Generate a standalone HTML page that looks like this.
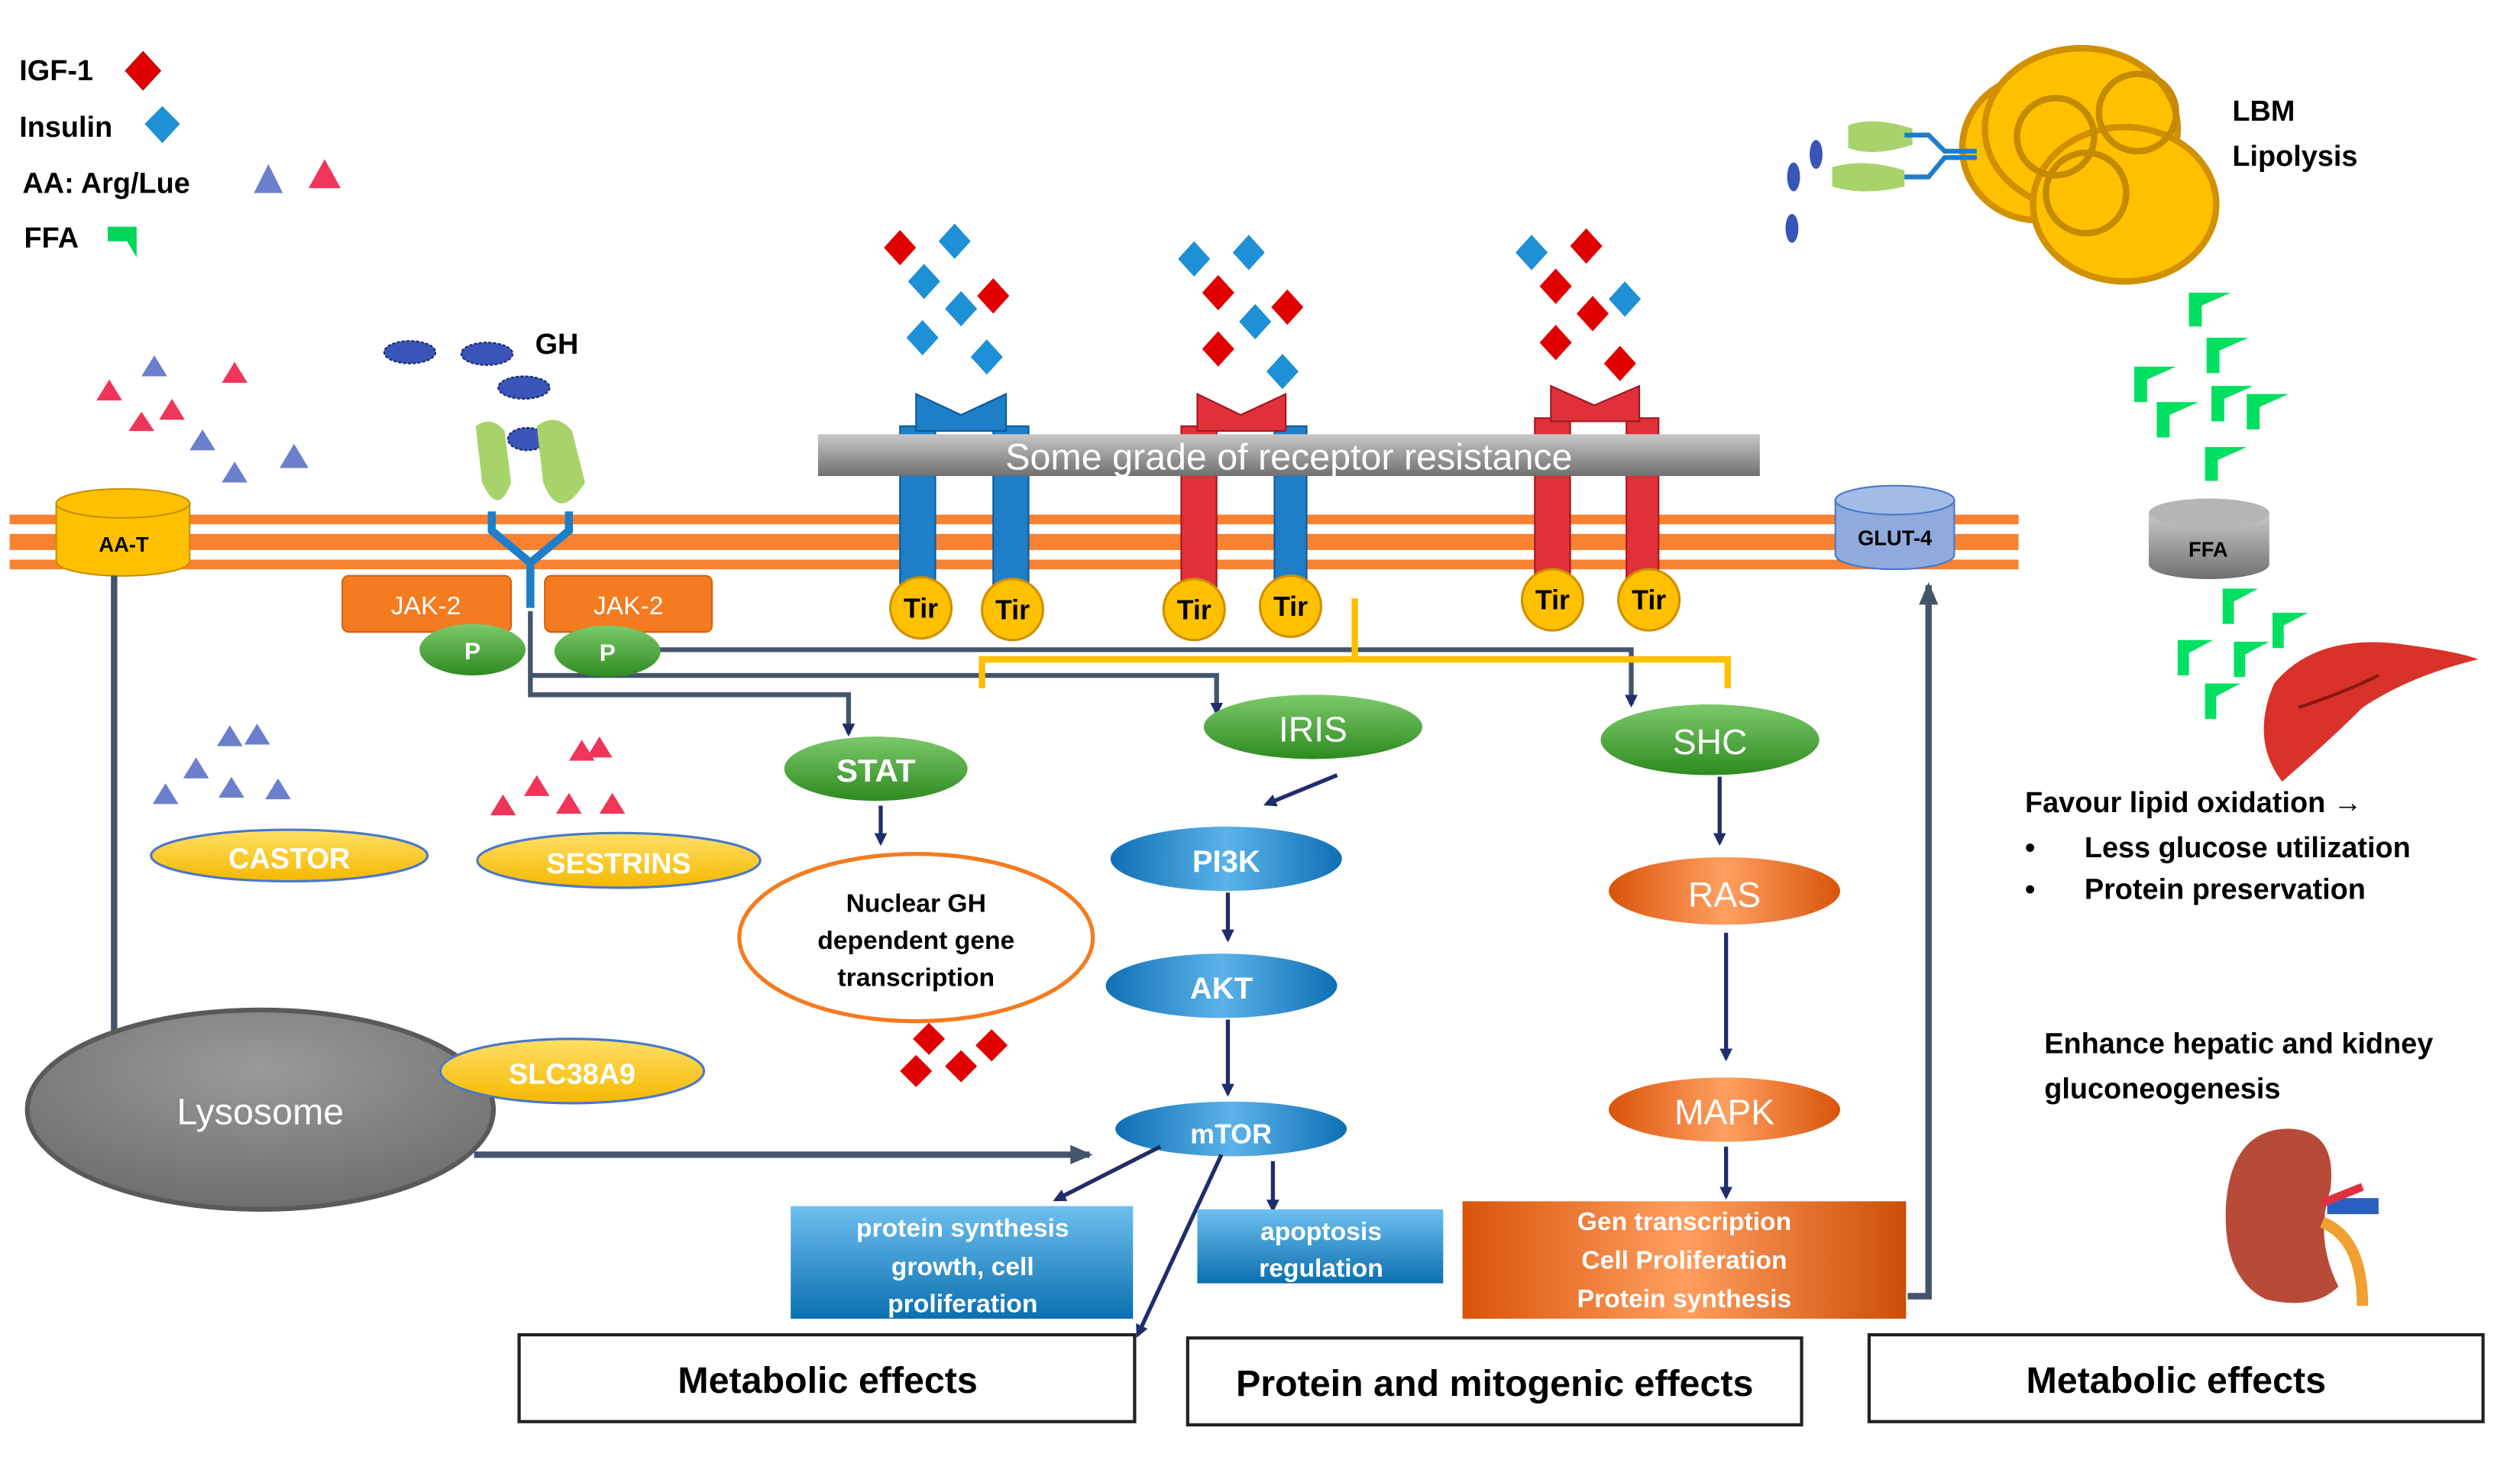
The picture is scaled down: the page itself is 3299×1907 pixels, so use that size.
<!DOCTYPE html>
<html><head><meta charset="utf-8"><style>
html,body{margin:0;padding:0;background:#fff;}
svg{display:block;}
text{font-family:"Liberation Sans",sans-serif;}
</style></head><body>
<svg width="3299" height="1907" viewBox="0 0 1568 906" preserveAspectRatio="none" xmlns="http://www.w3.org/2000/svg">
<defs>
<marker id="ar" markerWidth="8" markerHeight="8" refX="6" refY="4" orient="auto" markerUnits="userSpaceOnUse"><path d="M0,0 L8,4 L0,8 Z" fill="#1F2D6B"/></marker>
<marker id="ar2" markerWidth="14" markerHeight="12" refX="12" refY="6" orient="auto" markerUnits="userSpaceOnUse"><path d="M0,0 L14,6 L0,12 Z" fill="#44546A"/></marker>
<linearGradient id="gG" x1="0" y1="0" x2="0" y2="1"><stop offset="0" stop-color="#7CC96B"/><stop offset="1" stop-color="#2E8B1F"/></linearGradient>
<linearGradient id="gB" x1="0" y1="0" x2="1" y2="0"><stop offset="0" stop-color="#0F6FB5"/><stop offset=".5" stop-color="#5BB3E8"/><stop offset="1" stop-color="#0F6FB5"/></linearGradient>
<linearGradient id="gO" x1="0" y1="0" x2="1" y2="0"><stop offset="0" stop-color="#D9540A"/><stop offset=".5" stop-color="#FFA060"/><stop offset="1" stop-color="#D9540A"/></linearGradient>
<linearGradient id="gBox" x1="0" y1="0" x2="0" y2="1"><stop offset="0" stop-color="#6DC0EE"/><stop offset="1" stop-color="#0B6FB0"/></linearGradient>
<linearGradient id="gOBox" x1="0" y1="0" x2="1" y2="0"><stop offset="0" stop-color="#D9540A"/><stop offset=".5" stop-color="#FF9E5E"/><stop offset="1" stop-color="#CC4E08"/></linearGradient>
<linearGradient id="gGray" x1="0" y1="0" x2="0" y2="1"><stop offset="0" stop-color="#C8C8C8"/><stop offset="1" stop-color="#707070"/></linearGradient>
<radialGradient id="gLy" cx=".5" cy=".3" r=".7"><stop offset="0" stop-color="#9A9A9A"/><stop offset="1" stop-color="#6E6E6E"/></radialGradient>
<linearGradient id="gGold" x1="0" y1="0" x2="0" y2="1"><stop offset="0" stop-color="#FFE066"/><stop offset="1" stop-color="#F5B800"/></linearGradient>
</defs>

<g font-weight="bold" font-size="18" fill="#000">
<text x="12" y="50">IGF-1</text>
<text x="12" y="85">Insulin</text>
<text x="14" y="120">AA: Arg/Lue</text>
<text x="15" y="154">FFA</text>
</g>
<path d="M89,32 L100,44 L89,56 L78,44Z" fill="#E00000" stroke="#a00" stroke-width=".5"/>
<path d="M101,66 L112,77 L101,89 L90,77Z" fill="#1E90D6"/>
<path d="M167,102 L176,120 L158,120Z" fill="#6B7FCC"/>
<path d="M202,99 L212,117 L192,117Z" fill="#F0355A"/>
<path d="M67,141 L85,141 L85,160 L79,150 L67,150Z" fill="#00D65A"/>

<g fill="#F88231">
<rect x="6" y="320" width="1250" height="6"/>
<rect x="6" y="332" width="1250" height="10"/>
<rect x="6" y="348" width="1250" height="6"/>
</g>

<path d="M35,313 L35,349 A41,9 0 0 0 118,349 L118,313Z" fill="#FFC000" stroke="#C89000"/>
<ellipse cx="76.5" cy="313" rx="41.5" ry="9" fill="#FFC000" stroke="#C89000"/>
<text x="77" y="343" font-size="13" text-anchor="middle" font-weight="bold">AA-T</text>
<line x1="71" y1="358" x2="71" y2="642" stroke="#44546A" stroke-width="4"/>

<g fill="#F0355A">
<path d="M68,236 L76,249 L60,249Z"/><path d="M146,225 L154,238 L138,238Z"/><path d="M88,256 L96,268 L80,268Z"/><path d="M107,248 L115,261 L99,261Z"/>
<path d="M362,460 L370,473 L354,473Z"/><path d="M373,458 L381,471 L365,471Z"/><path d="M334,482 L342,495 L326,495Z"/><path d="M313,494 L321,507 L305,507Z"/><path d="M354,493 L362,506 L346,506Z"/><path d="M381,493 L389,506 L373,506Z"/>
</g>
<g fill="#6B7FCC">
<path d="M96,221 L104,234 L88,234Z"/><path d="M126,267 L134,280 L118,280Z"/><path d="M146,287 L154,300 L138,300Z"/><path d="M183,276 L192,291 L174,291Z"/>
<path d="M143,451 L151,464 L135,464Z"/><path d="M160,450 L168,463 L152,463Z"/><path d="M122,471 L130,484 L114,484Z"/><path d="M103,487 L111,500 L95,500Z"/><path d="M144,483 L152,496 L136,496Z"/><path d="M173,484 L181,497 L165,497Z"/>
</g>

<g fill="#3A55B8" stroke="#1a2a70" stroke-width="1" stroke-dasharray="2,1">
<ellipse cx="255" cy="219" rx="16" ry="7"/><ellipse cx="303" cy="220" rx="16" ry="7"/><ellipse cx="326" cy="241" rx="16" ry="7"/><ellipse cx="328" cy="273" rx="12" ry="7"/>
</g>
<text x="333" y="220" font-size="18" font-weight="bold">GH</text>
<path d="M296,265 Q306,258 314,268 L318,300 Q310,322 300,300 Z" fill="#A8D36A"/>
<path d="M334,265 Q346,256 356,268 L364,300 Q348,326 338,300 Z" fill="#A8D36A"/>
<g stroke="#1E7FC8" stroke-width="5" fill="none">
<path d="M306,318 L306,330 L330,350 L354,330 L354,318"/>
<line x1="330" y1="350" x2="330" y2="378"/>
</g>

<rect x="213" y="358" width="105" height="35" rx="4" fill="#F47B20" stroke="#D56010"/>
<rect x="339" y="358" width="104" height="35" rx="4" fill="#F47B20" stroke="#D56010"/>
<text x="265" y="382" font-size="16" fill="#fff" text-anchor="middle">JAK-2</text>
<text x="391" y="382" font-size="16" fill="#fff" text-anchor="middle">JAK-2</text>

<g stroke="#44546A" stroke-width="3" fill="none">
<path d="M410,404 L1015,404 L1015,438" marker-end="url(#ar)"/>
<path d="M330,380 L330,432 L528,432 L528,456" marker-end="url(#ar)"/>
<path d="M330,420 L757,420 L757,443" marker-end="url(#ar)"/>
</g>
<ellipse cx="294" cy="404" rx="33" ry="16" fill="url(#gG)"/>
<ellipse cx="378" cy="405" rx="33" ry="16" fill="url(#gG)"/>
<text x="294" y="410" font-size="15" font-weight="bold" fill="#fff" text-anchor="middle">P</text>
<text x="378" y="411" font-size="15" font-weight="bold" fill="#fff" text-anchor="middle">P</text>

<path d="M843,372 L843,410 M611,428 L611,410 L1075,410 L1075,428" stroke="#FFC000" stroke-width="4" fill="none"/>

<g>
<rect x="560" y="265" width="22" height="105" fill="#1E7FC8" stroke="#0C5A98"/>
<rect x="618" y="265" width="22" height="105" fill="#1E7FC8" stroke="#0C5A98"/>
<path d="M570,268 L570,245 L598,258 L626,245 L626,268Z" fill="#1E7FC8" stroke="#0C5A98"/>
<rect x="735" y="265" width="22" height="105" fill="#E0303A" stroke="#A01820"/>
<rect x="793" y="265" width="20" height="105" fill="#1E7FC8" stroke="#0C5A98"/>
<path d="M745,268 L745,245 L772,258 L800,245 L800,268Z" fill="#E0303A" stroke="#A01820"/>
<rect x="955" y="260" width="22" height="105" fill="#E0303A" stroke="#A01820"/>
<rect x="1012" y="260" width="20" height="105" fill="#E0303A" stroke="#A01820"/>
<path d="M965,262 L965,240 L992,252 L1020,240 L1020,262Z" fill="#E0303A" stroke="#A01820"/>
</g>
<rect x="509" y="270" width="586" height="26" fill="url(#gGray)"/>
<text x="802" y="292" font-size="23" fill="#fff" text-anchor="middle">Some grade of receptor resistance</text>
<g fill="#FFC000" stroke="#D09000" stroke-width="1.5">
<circle cx="573" cy="378" r="19"/><circle cx="630" cy="379" r="19"/><circle cx="743" cy="379" r="19"/><circle cx="803" cy="377" r="19"/><circle cx="966" cy="373" r="19"/><circle cx="1026" cy="373" r="19"/>
</g>
<g font-size="17" font-weight="bold" text-anchor="middle">
<text x="573" y="384">Tir</text><text x="630" y="385">Tir</text><text x="743" y="385">Tir</text><text x="803" y="383">Tir</text><text x="966" y="379">Tir</text><text x="1026" y="379">Tir</text>
</g>

<g>
<path d="M560,143 L570,154 L560,165 L550,154Z" fill="#E00000"/>
<path d="M594,139 L604,150 L594,161 L584,150Z" fill="#1E90D6"/>
<path d="M575,164 L585,175 L575,186 L565,175Z" fill="#1E90D6"/>
<path d="M618,173 L628,184 L618,195 L608,184Z" fill="#E00000"/>
<path d="M598,181 L608,192 L598,203 L588,192Z" fill="#1E90D6"/>
<path d="M574,199 L584,210 L574,221 L564,210Z" fill="#1E90D6"/>
<path d="M614,211 L624,222 L614,233 L604,222Z" fill="#1E90D6"/>
<path d="M743,150 L753,161 L743,172 L733,161Z" fill="#1E90D6"/>
<path d="M777,146 L787,157 L777,168 L767,157Z" fill="#1E90D6"/>
<path d="M758,171 L768,182 L758,193 L748,182Z" fill="#E00000"/>
<path d="M801,180 L811,191 L801,202 L791,191Z" fill="#E00000"/>
<path d="M781,189 L791,200 L781,211 L771,200Z" fill="#1E90D6"/>
<path d="M758,206 L768,217 L758,228 L748,217Z" fill="#E00000"/>
<path d="M798,220 L808,231 L798,242 L788,231Z" fill="#1E90D6"/>
<path d="M953,146 L963,157 L953,168 L943,157Z" fill="#1E90D6"/>
<path d="M987,142 L997,153 L987,164 L977,153Z" fill="#E00000"/>
<path d="M968,167 L978,178 L968,189 L958,178Z" fill="#E00000"/>
<path d="M1011,175 L1021,186 L1011,197 L1001,186Z" fill="#1E90D6"/>
<path d="M991,184 L1001,195 L991,206 L981,195Z" fill="#E00000"/>
<path d="M968,202 L978,213 L968,224 L958,213Z" fill="#E00000"/>
<path d="M1008,215 L1018,226 L1008,237 L998,226Z" fill="#E00000"/>
<path d="M578,636 L588,646 L578,656 L568,646Z" fill="#E00000"/>
<path d="M617,640 L627,650 L617,660 L607,650Z" fill="#E00000"/>
<path d="M598,653 L608,663 L598,673 L588,663Z" fill="#E00000"/>
<path d="M570,656 L580,666 L570,676 L560,666Z" fill="#E00000"/>
</g>

<path d="M1142,311 L1142,345 A37,9 0 0 0 1216,345 L1216,311Z" fill="#8FAADC" stroke="#4A78C8"/>
<ellipse cx="1179" cy="311" rx="37" ry="9" fill="#A3BCE6" stroke="#4A78C8"/>
<text x="1179" y="339" font-size="13" font-weight="bold" text-anchor="middle">GLUT-4</text>
<path d="M1187,806 L1200,806 L1200,364" stroke="#44546A" stroke-width="4" fill="none" marker-end="url(#ar2)"/>

<g fill="#FFC000" stroke="#D09000" stroke-width="4">
<ellipse cx="1268" cy="92" rx="47" ry="45"/>
<ellipse cx="1295" cy="80" rx="60" ry="50"/>
<ellipse cx="1322" cy="127" rx="57" ry="48"/>
</g>
<g fill="none" stroke="#C48A00" stroke-width="4">
<circle cx="1279" cy="85" r="24"/><circle cx="1330" cy="70" r="24"/><circle cx="1298" cy="120" r="25"/>
</g>
<path d="M1150,78 Q1165,72 1190,80 L1190,90 Q1165,98 1150,92Z" fill="#A8D36A"/>
<path d="M1140,104 Q1160,98 1185,106 L1185,116 Q1160,122 1140,116Z" fill="#A8D36A"/>
<path d="M1185,84 L1200,84 L1210,94 L1230,94 M1185,110 L1200,110 L1210,98 L1230,98" stroke="#1E7FC8" stroke-width="3" fill="none"/>
<g fill="#3A55B8"><ellipse cx="1130" cy="96" rx="4" ry="9"/><ellipse cx="1116" cy="110" rx="4" ry="9"/><ellipse cx="1115" cy="142" rx="4" ry="9"/></g>
<text x="1389" y="75" font-size="18" font-weight="bold">LBM</text>
<text x="1389" y="103" font-size="18" font-weight="bold">Lipolysis</text>

<g fill="#00E060">
<path d="M1362,182 L1388,182 L1370,190 L1370,203 L1362,203Z"/>
<path d="M1373,210 L1399,210 L1381,218 L1381,232 L1373,232Z"/>
<path d="M1328,228 L1354,228 L1336,236 L1336,250 L1328,250Z"/>
<path d="M1342,250 L1368,250 L1350,258 L1350,272 L1342,272Z"/>
<path d="M1376,240 L1402,240 L1384,248 L1384,262 L1376,262Z"/>
<path d="M1398,245 L1424,245 L1406,253 L1406,267 L1398,267Z"/>
<path d="M1372,278 L1398,278 L1380,286 L1380,299 L1372,299Z"/>
<path d="M1383,366 L1405,366 L1390,374 L1390,388 L1383,388Z"/>
<path d="M1414,381 L1436,381 L1421,389 L1421,403 L1414,403Z"/>
<path d="M1355,398 L1377,398 L1362,406 L1362,420 L1355,420Z"/>
<path d="M1390,399 L1412,399 L1397,407 L1397,421 L1390,421Z"/>
<path d="M1372,425 L1394,425 L1379,433 L1379,447 L1372,447Z"/>
</g>
<path d="M1337,319 L1337,351 A37,9 0 0 0 1412,351 L1412,319Z" fill="url(#gGray)"/>
<ellipse cx="1374.5" cy="319" rx="37.5" ry="9" fill="#B5B5B5"/>
<text x="1374" y="346" font-size="13" font-weight="bold" text-anchor="middle">FFA</text>

<path d="M1415,425 Q1440,395 1490,400 Q1530,405 1542,410 Q1500,420 1470,440 Q1450,460 1420,486 Q1400,460 1415,425Z" fill="#D9322A"/>
<path d="M1430,440 Q1460,430 1480,420" stroke="#8A1810" fill="none" stroke-width="2"/>

<text x="1260" y="505" font-size="18" font-weight="bold">Favour lipid oxidation →</text>
<text x="1260" y="533" font-size="18" font-weight="bold">•</text>
<text x="1297" y="533" font-size="18" font-weight="bold">Less glucose utilization</text>
<text x="1260" y="559" font-size="18" font-weight="bold">•</text>
<text x="1297" y="559" font-size="18" font-weight="bold">Protein preservation</text>
<text x="1272" y="655" font-size="18" font-weight="bold">Enhance  hepatic and kidney</text>
<text x="1272" y="683" font-size="18" font-weight="bold">gluconeogenesis</text>

<path d="M1420,702 Q1455,700 1450,740 Q1440,770 1455,800 Q1440,815 1410,808 Q1383,795 1385,750 Q1388,705 1420,702Z" fill="#B84A38"/>
<path d="M1448,745 L1480,745 L1480,755 L1448,755Z" fill="#2A5FC0"/>
<path d="M1445,760 Q1470,770 1470,812" stroke="#F0A030" stroke-width="7" fill="none"/>
<path d="M1445,748 L1470,738" stroke="#E03040" stroke-width="5"/>

<ellipse cx="545" cy="478" rx="57" ry="20" fill="url(#gG)"/>
<text x="545" y="486" font-size="20" font-weight="bold" fill="#fff" text-anchor="middle">STAT</text>
<line x1="548" y1="501" x2="548" y2="524" stroke="#1F2D6B" stroke-width="2.5" marker-end="url(#ar)"/>
<ellipse cx="570" cy="583" rx="110" ry="52" fill="#fff" stroke="#F47B20" stroke-width="2.5"/>
<g font-size="16" font-weight="bold" text-anchor="middle">
<text x="570" y="567">Nuclear GH</text><text x="570" y="590">dependent gene</text><text x="570" y="613">transcription</text>
</g>

<ellipse cx="180" cy="532" rx="86" ry="16" fill="url(#gGold)" stroke="#4A78C8" stroke-width="1.5"/>
<text x="180" y="540" font-size="18" font-weight="bold" fill="#fff" text-anchor="middle">CASTOR</text>
<ellipse cx="385" cy="535" rx="88" ry="17" fill="url(#gGold)" stroke="#4A78C8" stroke-width="1.5"/>
<text x="385" y="543" font-size="18" font-weight="bold" fill="#fff" text-anchor="middle">SESTRINS</text>
<ellipse cx="162" cy="690" rx="145" ry="62" fill="url(#gLy)" stroke="#5a5a5a" stroke-width="3"/>
<text x="162" y="699" font-size="23" fill="#fff" text-anchor="middle">Lysosome</text>
<ellipse cx="356" cy="666" rx="82" ry="20" fill="url(#gGold)" stroke="#4A78C8" stroke-width="1.5"/>
<text x="356" y="674" font-size="18" font-weight="bold" fill="#fff" text-anchor="middle">SLC38A9</text>
<line x1="295" y1="718" x2="678" y2="718" stroke="#44546A" stroke-width="4" marker-end="url(#ar2)"/>

<ellipse cx="817" cy="452" rx="68" ry="20" fill="url(#gG)"/>
<text x="817" y="461" font-size="22" fill="#fff" text-anchor="middle">IRIS</text>
<line x1="832" y1="482" x2="788" y2="500" stroke="#1F2D6B" stroke-width="2.5" marker-end="url(#ar)"/>
<ellipse cx="763" cy="534" rx="72" ry="20" fill="url(#gB)"/>
<text x="763" y="542" font-size="19" font-weight="bold" fill="#fff" text-anchor="middle">PI3K</text>
<line x1="764" y1="555" x2="764" y2="584" stroke="#1F2D6B" stroke-width="2.5" marker-end="url(#ar)"/>
<ellipse cx="760" cy="613" rx="72" ry="20" fill="url(#gB)"/>
<text x="760" y="621" font-size="19" font-weight="bold" fill="#fff" text-anchor="middle">AKT</text>
<line x1="764" y1="634" x2="764" y2="680" stroke="#1F2D6B" stroke-width="2.5" marker-end="url(#ar)"/>
<ellipse cx="766" cy="702" rx="72" ry="17" fill="url(#gB)"/>
<text x="766" y="711" font-size="17" font-weight="bold" fill="#fff" text-anchor="middle">mTOR</text>
<line x1="722" y1="713" x2="657" y2="746" stroke="#1F2D6B" stroke-width="2.5" marker-end="url(#ar)"/>
<path d="M760,718 L708,830" stroke="#1F2D6B" stroke-width="2.5" fill="none" marker-end="url(#ar)"/>
<line x1="792" y1="722" x2="792" y2="752" stroke="#1F2D6B" stroke-width="2.5" marker-end="url(#ar)"/>
<rect x="492" y="750" width="213" height="70" fill="url(#gBox)"/>
<g font-size="16" font-weight="bold" fill="#fff" text-anchor="middle">
<text x="599" y="769">protein synthesis</text><text x="599" y="793">growth, cell</text><text x="599" y="816">proliferation</text>
</g>
<rect x="745" y="752" width="153" height="46" fill="url(#gBox)"/>
<g font-size="16" font-weight="bold" fill="#fff" text-anchor="middle">
<text x="822" y="771">apoptosis</text><text x="822" y="794">regulation</text>
</g>

<ellipse cx="1064" cy="460" rx="68" ry="22" fill="url(#gG)"/>
<text x="1064" y="469" font-size="22" fill="#fff" text-anchor="middle">SHC</text>
<line x1="1070" y1="483" x2="1070" y2="524" stroke="#1F2D6B" stroke-width="2.5" marker-end="url(#ar)"/>
<ellipse cx="1073" cy="554" rx="72" ry="21" fill="url(#gO)"/>
<text x="1073" y="564" font-size="22" fill="#fff" text-anchor="middle">RAS</text>
<line x1="1074" y1="580" x2="1074" y2="658" stroke="#1F2D6B" stroke-width="2.5" marker-end="url(#ar)"/>
<ellipse cx="1073" cy="690" rx="72" ry="20" fill="url(#gO)"/>
<text x="1073" y="699" font-size="22" fill="#fff" text-anchor="middle">MAPK</text>
<line x1="1074" y1="713" x2="1074" y2="744" stroke="#1F2D6B" stroke-width="2.5" marker-end="url(#ar)"/>
<rect x="910" y="747" width="276" height="73" fill="url(#gOBox)"/>
<g font-size="16" font-weight="bold" fill="#fff" text-anchor="middle">
<text x="1048" y="765">Gen transcription</text><text x="1048" y="789">Cell Proliferation</text><text x="1048" y="813">Protein synthesis</text>
</g>

<g fill="#fff" stroke="#222" stroke-width="2">
<rect x="323" y="830" width="383" height="54"/>
<rect x="739" y="832" width="382" height="54"/>
<rect x="1163" y="830" width="382" height="54"/>
</g>
<g font-size="23" font-weight="bold" text-anchor="middle">
<text x="515" y="866">Metabolic effects</text>
<text x="930" y="868">Protein and mitogenic effects</text>
<text x="1354" y="866">Metabolic effects</text>
</g>
</svg>
</body></html>
